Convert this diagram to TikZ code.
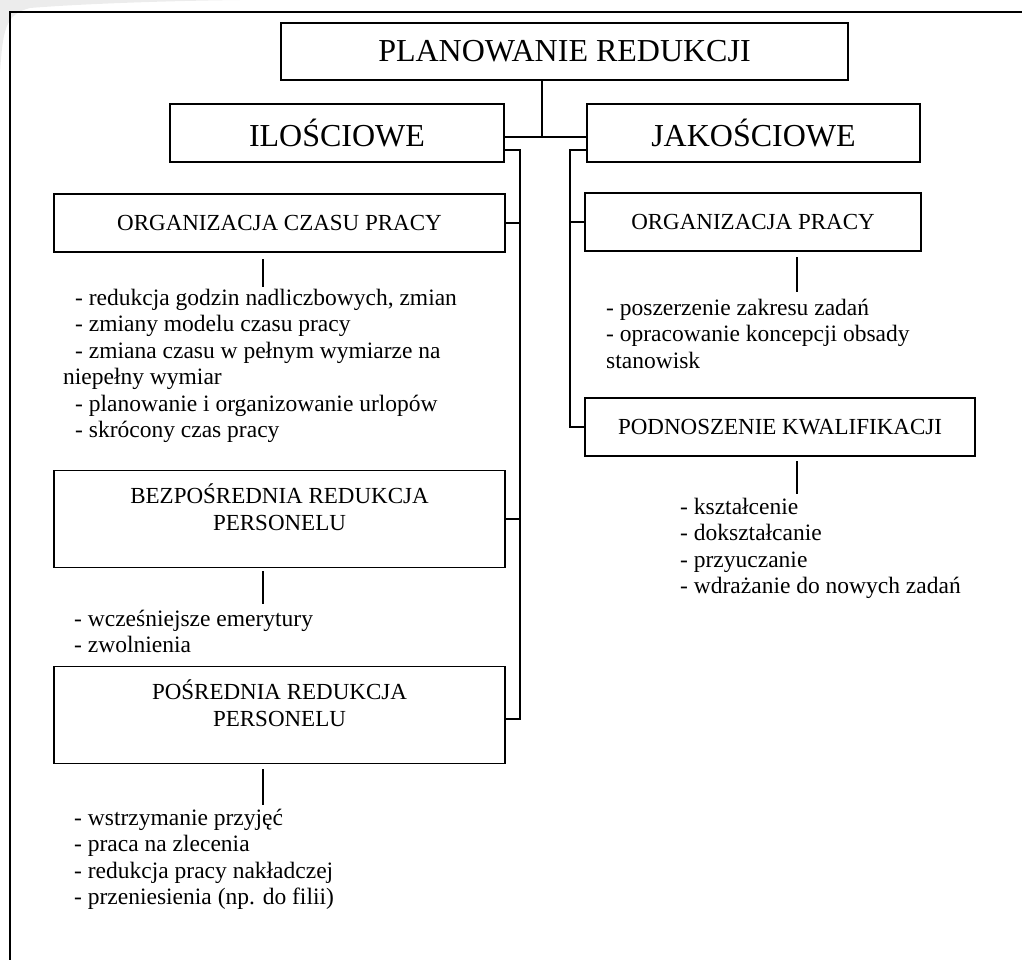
\documentclass[tikz,border=0pt]{standalone}
\usepackage{fontspec}
\setmainfont{Liberation Serif}
\begin{document}
\begin{tikzpicture}[x=1pt,y=-1pt,
  boxed/.style={draw, line width=1.6pt, inner sep=0pt, align=center},
  big/.style={font=\fontsize{32}{36}\selectfont},
  mid/.style={font=\fontsize{23}{27.5}\selectfont},
  conn/.style={line width=1.6pt},
  lst/.style={anchor=base west, align=left, inner sep=0pt, font=\fontsize{23.5}{26.5}\selectfont}]
\useasboundingbox (0,0) rectangle (1022,960);
\clip (0,0) rectangle (1022,960);
% grey corner band
\fill[gray!15] (0,0) -- (0,72) .. controls (3,30) and (5,14) .. (30,8) .. controls (80,4) and (160,1) .. (240,0) -- cycle;
% outer frame
\draw[line width=1.6pt] (10,975) -- (10,12) -- (1035,12);

% boxes
\node[boxed, big, minimum width=567pt, minimum height=57pt] (title) at (564.5,51.5) {PLANOWANIE REDUKCJI};
\node[boxed, big, minimum width=334pt, minimum height=58pt] (ilo) at (337,133) {ILOŚCIOWE};
\node[boxed, big, minimum width=333pt, minimum height=58pt] (jak) at (753.5,133) {JAKOŚCIOWE};
\node[boxed, mid, minimum width=451pt, minimum height=58pt] (ocp) at (279.5,223) {ORGANIZACJA CZASU PRACY};
\node[boxed, minimum width=451pt, minimum height=97pt] (bez) at (279.5,519) {};
\node[mid, anchor=base, align=center, inner sep=0pt] (bezt) at (279.5,530.5) {BEZPOŚREDNIA REDUKCJA\\PERSONELU};
\node[boxed, minimum width=451pt, minimum height=97pt] (pos) at (279.5,715) {};
\node[mid, anchor=base, align=center, inner sep=0pt] (post) at (279.5,726.5) {POŚREDNIA REDUKCJA\\PERSONELU};
\node[boxed, mid, minimum width=336pt, minimum height=58pt] (op) at (753,222) {ORGANIZACJA PRACY};
\node[boxed, mid, minimum width=390pt, minimum height=58pt] (pk) at (780,427) {PODNOSZENIE KWALIFIKACJI};

% junction coordinates
\coordinate (jn) at (542,137);
\coordinate (lt) at (520,150);
\coordinate (ltb) at (520,719);
\coordinate (rt) at (570,150);

% top connectors
\draw[conn] (title.south -| jn) -- (jn);
\draw[conn] (ilo.east |- jn) -- (jak.west |- jn);
% left trunk
\draw[conn] (ilo.east |- lt) -- (lt) -- (ltb) -- (pos.east |- ltb);
\draw[conn] (ocp.east) -- (ocp.east -| lt);
\draw[conn] (bez.east) -- (bez.east -| lt);
% right trunk
\draw[conn] (jak.west |- rt) -- (rt) |- (pk.west);
\draw[conn] (op.west) -- (op.west -| rt);

% small stubs
\coordinate (s1a) at (263,259); \coordinate (s1b) at (263,287);
\coordinate (s2a) at (263,571); \coordinate (s2b) at (263,604);
\coordinate (s3a) at (263,769); \coordinate (s3b) at (263,805);
\coordinate (s4a) at (797,257); \coordinate (s4b) at (797,292);
\coordinate (s5a) at (797,461); \coordinate (s5b) at (797,494);
\draw[conn] (s1a) -- (s1b);
\draw[conn] (s2a) -- (s2b);
\draw[conn] (s3a) -- (s3b);
\draw[conn] (s4a) -- (s4b);
\draw[conn] (s5a) -- (s5b);

% lists (anchored at the baseline of their last line)
\node[lst] (l1) at (75,437.5) {- redukcja godzin nadliczbowych, zmian\\
- zmiany modelu czasu pracy\\
- zmiana czasu w pełnym wymiarze na\\
\hspace*{-12pt}niepełny wymiar\\
- planowanie i organizowanie urlopów\\
- skrócony czas pracy};
\node[lst] (l2) at (74,652.5) {- wcześniejsze emerytury\\
- zwolnienia};
\node[lst] (l3) at (74,904.5) {- wstrzymanie przyjęć\\
- praca na zlecenia\\
- redukcja pracy nakładczej\\
- przeniesienia (np. do filii)};
\node[lst] (l4) at (606,368) {- poszerzenie zakresu zadań\\
- opracowanie koncepcji obsady\\
stanowisk};
\node[lst] (l5) at (680,593.5) {- kształcenie\\
- dokształcanie\\
- przyuczanie\\
- wdrażanie do nowych zadań};
\end{tikzpicture}
\end{document}
